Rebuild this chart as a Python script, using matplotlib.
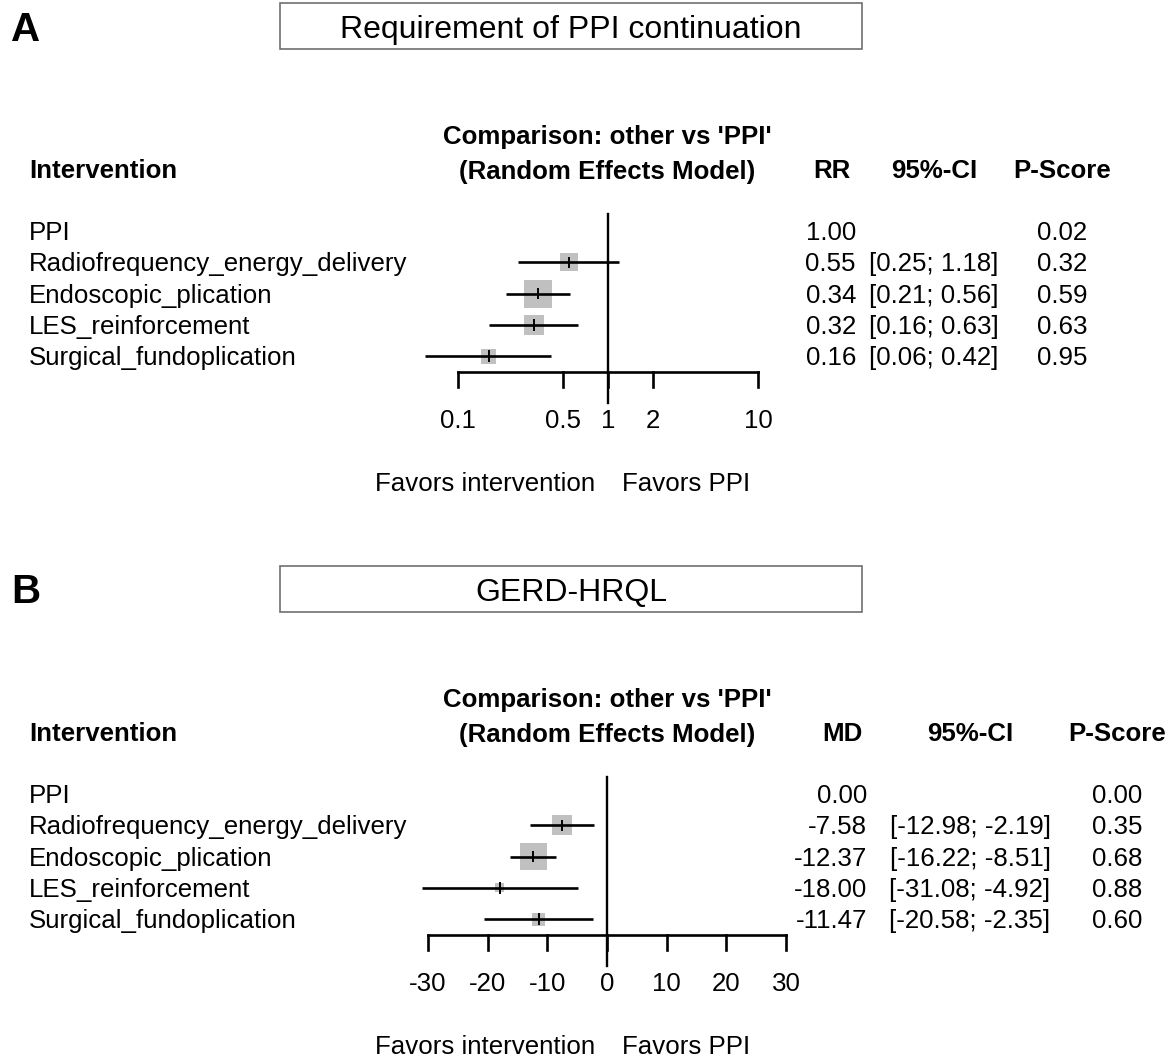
import numpy as np
import matplotlib
matplotlib.use("Agg")
import matplotlib.pyplot as plt
from matplotlib.patches import Rectangle

plt.rcParams['font.family'] = ['Liberation Sans', 'DejaVu Sans']

W, H = 1172, 1059

# === DATA ===
treatments = ['PPI', 'Radiofrequency_energy_delivery', 'Endoscopic_plication',
              'LES_reinforcement', 'Surgical_fundoplication']

# panel A: requirement of PPI continuation (risk ratio)
rr = [1.00, 0.55, 0.34, 0.32, 0.16]
rr_lo = [np.nan, 0.25, 0.21, 0.16, 0.06]
rr_hi = [np.nan, 1.18, 0.56, 0.63, 0.42]
pscore_a = [0.02, 0.32, 0.59, 0.63, 0.95]
weight_a = [0, 18, 28, 20, 15]
ticks_a = [0.1, 0.5, 1, 2, 10]
ticklabels_a = ['0.1', '0.5', '1', '2', '10']

# panel B: GERD-HRQL (mean difference)
md = [0.00, -7.58, -12.37, -18.00, -11.47]
md_lo = [np.nan, -12.98, -16.22, -31.08, -20.58]
md_hi = [np.nan, -2.19, -8.51, -4.92, -2.35]
pscore_b = [0.00, 0.35, 0.68, 0.88, 0.60]
weight_b = [0, 20, 27, 9, 13]
ticks_b = [-30, -20, -10, 0, 10, 20, 30]
ticklabels_b = ['-30', '-20', '-10', '0', '10', '20', '30']

FS = 18.6
fig = plt.figure(figsize=(W / 100, H / 100), dpi=100)


def fx(x):
    return x / W


def fy(y):
    return 1 - y / H


def ftext(x, y, s, **kw):
    # y is the visual centre of capitals; shift to baseline
    size = kw.pop('size', FS)
    off = size * 100 / 72 * 0.716 / 2
    fig.text(fx(x), fy(y + off), s, size=size, va='baseline', **kw)


def forest(dy, left, right, xlim, log, est, lo, hi, wts, ticks, ticklabels,
           title, measure, col_x, val_right, ci_x, ps_x, pscore):
    # title box
    fig.patches.append(Rectangle((fx(280), fy(49 + dy)), fx(862 - 280), (46) / H,
                                 transform=fig.transFigure, fill=False,
                                 edgecolor='#707070', lw=1.2))
    ftext(571, 27 + dy, title, size=23, ha='center')

    # headers
    ftext(607, 135 + dy, "Comparison: other vs 'PPI'", ha='center', weight='bold')
    ftext(607, 170 + dy, "(Random Effects Model)", ha='center', weight='bold')
    ftext(29, 169 + dy, "Intervention", ha='left', weight='bold')
    ftext(col_x, 169 + dy, measure, ha='center', weight='bold')
    ftext(ci_x, 169 + dy, "95%-CI", ha='center', weight='bold')
    ftext(ps_x, 169 + dy, "P-Score", ha='center', weight='bold')

    # rows of text
    for i, name in enumerate(treatments):
        y = 231 + dy + i * 31.2
        ftext(29, y, name, ha='left')
        ftext(val_right, y, f"{est[i]:.2f}", ha='right')
        if not np.isnan(lo[i]):
            ftext(ci_x, y, f"[{lo[i]:.2f}; {hi[i]:.2f}]", ha='center')
        ftext(ps_x, y, f"{pscore[i]:.2f}", ha='center')

    ftext(595, 482 + dy, "Favors intervention", ha='right')
    ftext(622, 482 + dy, "Favors PPI", ha='left')

    # plot area
    top, bot = 214 + dy, 403 + dy
    ax = fig.add_axes([fx(left), fy(bot), (right - left) / W, (bot - top) / H])
    if log:
        ax.set_xscale('log')
    ax.set_xlim(xlim)
    ax.set_ylim(5.5, -0.55)
    ax.axis('off')

    null = 1 if log else 0
    ax.plot([null, null], [-0.55, 5.5], color='black', lw=1.7, clip_on=False)
    ax.plot([ticks[0], ticks[-1]], [4.5, 4.5], color='black', lw=1.9,
            clip_on=False, solid_capstyle='projecting')
    for t, lab in zip(ticks, ticklabels):
        ax.plot([t, t], [4.5, 5.0], color='black', lw=1.9, clip_on=False)
        ax.text(t, 6.3, lab, ha='center', va='baseline', size=FS, clip_on=False)

    rows = np.arange(len(treatments))
    for i in rows[1:]:
        s = (wts[i] * 0.72) ** 2
        ax.scatter([est[i]], [i], marker='s', s=s, color='#c0c0c0',
                   edgecolors='none', zorder=2, clip_on=False)
        ax.plot([lo[i], hi[i]], [i, i], color='black', lw=1.9, zorder=3,
                clip_on=False, solid_capstyle='butt')
        ax.plot([est[i], est[i]], [i - 0.15, i + 0.15], color='black', lw=1.4,
                zorder=4, clip_on=False)
    return ax


forest(0, 458, 758, (0.1, 10), True, rr, rr_lo, rr_hi, weight_a, ticks_a,
       ticklabels_a, "Requirement of PPI continuation", "RR", 832, 856, 934,
       1062, pscore_a)
forest(563, 428, 786, (-30, 30), False, md, md_lo, md_hi, weight_b, ticks_b,
       ticklabels_b, "GERD-HRQL", "MD", 842, 867, 970, 1117, pscore_b)

fig.text(fx(11), fy(41), "A", size=29, weight='bold', ha='left', va='baseline')
fig.text(fx(11), fy(603), "B", size=29, weight='bold', ha='left', va='baseline')

fig.savefig("out.png", dpi=100)
